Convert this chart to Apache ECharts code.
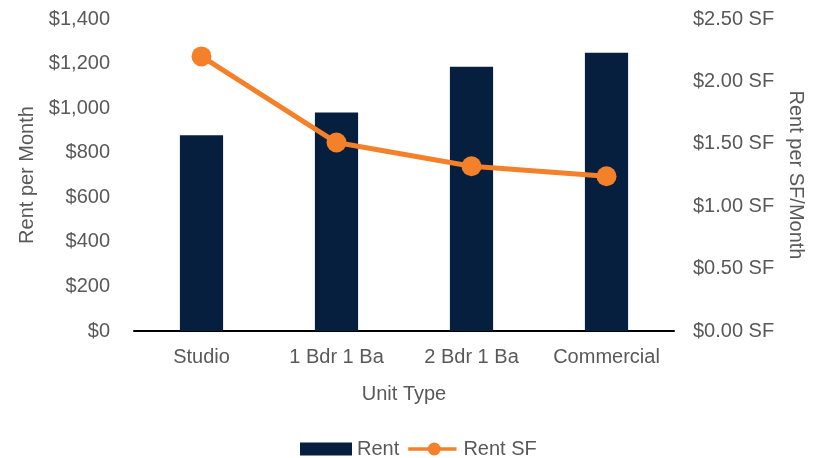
<!DOCTYPE html>
<html><head><meta charset="utf-8">
<script src="https://cdn.jsdelivr.net/npm/echarts@6/dist/echarts.min.js"></script>
<style>html,body{margin:0;padding:0;background:#fff}#c{width:816px;height:458px}</style>
</head><body><div id="c"></div>
<script>
const categories = ['Studio', '1 Bdr 1 Ba', '2 Bdr 1 Ba', 'Commercial'];
const rent = [878, 981, 1186, 1249];
const rentSF = [2.20, 1.51, 1.32, 1.24];
const leftTicks = [0, 1400, 200];
const rightTicks = [0, 2.5, 0.5];

const txt = '#595959';
const orange = '#f4812a';
const font = 'Liberation Sans, Arial, sans-serif';
const fs = 20;
const lineIcon = 'path://M0,5 L52,5 L52,9 L0,9 Z M28,0 A7,7 0 1 1 28,14 A7,7 0 1 1 28,0 Z';
const chart = echarts.init(document.getElementById('c'));
chart.setOption({
  animation: false,
  textStyle: { fontFamily: font },
  grid: { left: 134, right: 142, top: 19, bottom: 127 },
  legend: {
    top: 434, left: 295, itemGap: 9, itemWidth: 52, itemHeight: 13,
    textStyle: { color: txt, fontSize: fs, fontFamily: font },
    data: [
      { name: 'Rent', icon: 'rect' },
      { name: 'Rent SF', icon: lineIcon, itemStyle: { color: orange } }
    ]
  },
  xAxis: {
    type: 'category', data: categories,
    name: 'Unit Type', nameLocation: 'middle', nameGap: 53,
    nameTextStyle: { color: txt, fontSize: fs },
    axisLine: { lineStyle: { color: '#000', width: 2 } },
    axisTick: { show: false },
    axisLabel: { color: txt, fontSize: fs, margin: 16, interval: 0 }
  },
  yAxis: [{
    type: 'value', min: leftTicks[0], max: leftTicks[1], interval: leftTicks[2],
    name: 'Rent per Month', nameLocation: 'middle', nameGap: 91,
    nameTextStyle: { color: txt, fontSize: fs },
    splitLine: { show: false }, axisLine: { show: false }, axisTick: { show: false },
    axisLabel: { color: txt, fontSize: fs, margin: 24, formatter: v => '$' + v.toLocaleString('en-US') }
  }, {
    type: 'value', min: rightTicks[0], max: rightTicks[1], interval: rightTicks[2],
    name: 'Rent per SF/Month', nameLocation: 'middle', nameGap: 111, nameRotate: -90,
    nameTextStyle: { color: txt, fontSize: fs },
    splitLine: { show: false }, axisLine: { show: false }, axisTick: { show: false },
    axisLabel: { color: txt, fontSize: fs, margin: 19, formatter: v => '$' + v.toFixed(2) + ' SF' }
  }],
  series: [{
    name: 'Rent', type: 'bar', data: rent, barWidth: '32%', yAxisIndex: 0,
    itemStyle: { color: '#061f3f' }
  }, {
    name: 'Rent SF', type: 'line', data: rentSF, yAxisIndex: 1,
    symbol: 'circle', symbolSize: 20,
    lineStyle: { color: orange, width: 5 },
    itemStyle: { color: orange }
  }]
});
</script></body></html>
